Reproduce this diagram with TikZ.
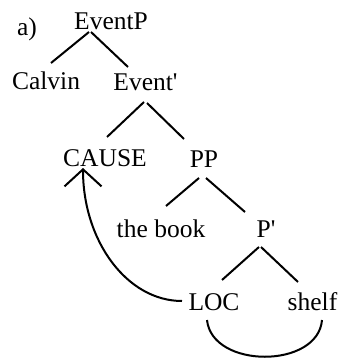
\documentclass[tikz,border=0pt]{standalone}
\usepackage{fontspec}
\setmainfont{Liberation Serif}[Ligatures=TeXOff]
\usetikzlibrary{arrows.meta,calc}
\begin{document}
\begin{tikzpicture}[x=1pt,y=-1pt,
  lbl/.style={anchor=base,inner sep=0pt,font=\fontsize{25.5}{30}\selectfont},
  edge/.style={line width=2pt},
  link/.style={line width=2pt}]
\useasboundingbox (0,0) rectangle (342,358);
\node[lbl] (a) at (27,36) {a)};
\node[lbl] (EventP) at (111,30) {EventP};
\node[lbl] (Calvin) at (46,90) {Calvin};
\node[lbl] (Eventb) at (145.5,91) {Event'};
\node[lbl] (CAUSE) at (105,166) {CAUSE};
\node[lbl] (PP) at (204,167) {PP};
\node[lbl] (book) at (161,237) {the book};
\node[lbl] (Pb) at (266,237) {P'};
\node[lbl] (LOC) at (214,310) {LOC};
\node[lbl] (shelf) at (312.5,310) {shelf};
% tree edges
\draw[edge] ($(EventP.base)+(-22,2)$) -- ($(Calvin.base)+(5,-27)$);
\draw[edge] ($(EventP.base)+(-20,2)$) -- ($(Eventb.base)+(-17.5,-24)$);
\draw[edge] ($(Eventb.base)+(-1.5,11)$) -- ($(CAUSE.base)+(2,-29)$);
\draw[edge] ($(Eventb.base)+(1.5,12)$) -- ($(PP.base)+(-20,-28)$);
\draw[edge] ($(PP.base)+(-5,11)$) -- ($(book.base)+(5,-31)$);
\draw[edge] ($(PP.base)+(2,11)$) -- ($(Pb.base)+(-21,-25)$);
\draw[edge] ($(Pb.base)+(-7,10)$) -- ($(LOC.base)+(8,-30)$);
\draw[edge] ($(Pb.base)+(-5,10)$) -- ($(shelf.base)+(-14.5,-28)$);
% movement arrow
\draw[link,-{Straight Barb[length=17pt,width=37pt]}]
  ($(LOC.base)+(-32,-9)$) .. controls ($(LOC.base)+(-87,-9)$) and ($(CAUSE.base)+(-22,75)$) .. ($(CAUSE.base)+(-22,2)$);
% bottom arc
\draw[link] ($(LOC.base)+(-7,10)$) .. controls ($(LOC.base)+(-2,59)$) and ($(shelf.base)+(5.5,59)$) .. ($(shelf.base)+(9.5,10)$);
\end{tikzpicture}
\end{document}
